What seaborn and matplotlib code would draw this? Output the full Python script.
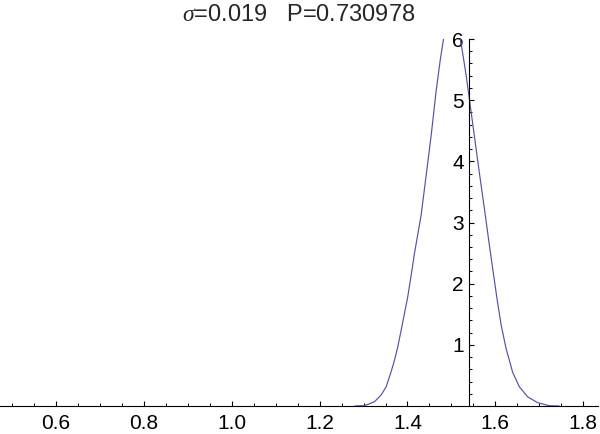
import numpy as np
import seaborn as sns
import matplotlib.pyplot as plt
from matplotlib.ticker import MultipleLocator, FixedLocator

sns.set_style("white")
plt.rcParams['font.family'] = ['Liberation Sans', 'DejaVu Sans']
plt.rcParams['mathtext.fontset'] = 'custom'
plt.rcParams['mathtext.rm'] = 'Liberation Sans'
plt.rcParams['mathtext.it'] = 'Liberation Serif:italic'

# curve, clipped at the top of the plot range (y = 6)
left_x = [1.28, 1.3023, 1.325, 1.340, 1.3515, 1.3614, 1.3705, 1.378, 1.3856, 1.393,
          1.4007, 1.4084, 1.416, 1.431, 1.4425, 1.454, 1.465, 1.475, 1.482]
left_y = [0.0, 0.005, 0.07, 0.18, 0.315, 0.53, 0.75, 0.97, 1.24, 1.51,
          1.79, 2.14, 2.50, 3.12, 3.77, 4.43, 5.14, 5.68, 6.0]
right_x = [1.5205, 1.5334, 1.5448, 1.556, 1.5675, 1.575, 1.5848, 1.594, 1.603, 1.613,
           1.624, 1.6394, 1.6545, 1.6735, 1.696, 1.7227, 1.745]
right_y = [6.0, 5.41, 4.81, 4.21, 3.61, 3.23, 2.71, 2.24, 1.79, 1.33,
           0.95, 0.55, 0.315, 0.15, 0.055, 0.005, 0.0]

x_ticks = [0.6, 0.8, 1.0, 1.2, 1.4, 1.6, 1.8]
y_ticks = [1, 2, 3, 4, 5, 6]
title = r"$\sigma$=0.019   P=0.730978"

fig = plt.figure(figsize=(6, 4.34), dpi=100)
ax = fig.add_axes([0, 0.0645, 0.997, 0.8456])

curve_color = (0.32, 0.32, 0.66)
for xs, ys in [(left_x, left_y), (right_x, right_y)]:
    sns.lineplot(x=xs, y=ys, ax=ax, sort=False, estimator=None,
                 color=curve_color, linewidth=0.85)

ax.set_xlim(0.4727, 1.834)
ax.set_ylim(0, 6)

for s in ['top', 'right']:
    ax.spines[s].set_visible(False)
ax.spines['left'].set_position(('data', 1.541))
ax.spines['bottom'].set_position(('data', 0))
for s in ['left', 'bottom']:
    ax.spines[s].set_linewidth(0.8)
    ax.spines[s].set_color('black')

ax.set_xticks(x_ticks)
ax.set_xticklabels([f"{v:.1f}" for v in x_ticks])
ax.xaxis.set_minor_locator(MultipleLocator(0.05))
ax.set_yticks(y_ticks)
ax.set_yticklabels([str(v) for v in y_ticks])
ax.yaxis.set_minor_locator(FixedLocator([v / 5 for v in range(1, 30) if v % 5]))

ax.tick_params(which='major', direction='in', length=3.5, width=0.8, color='black',
               labelsize=15, labelcolor='black')
ax.tick_params(which='minor', direction='in', length=2, width=0.7, color='black')
ax.tick_params(axis='x', which='major', pad=6)
ax.tick_params(axis='y', which='major', pad=4)
ax.tick_params(axis='both', which='both', bottom=True, left=True)

fig.text(0.497, 0.966, title, ha='center', va='center', fontsize=17)

fig.savefig("out.png", dpi=100)
